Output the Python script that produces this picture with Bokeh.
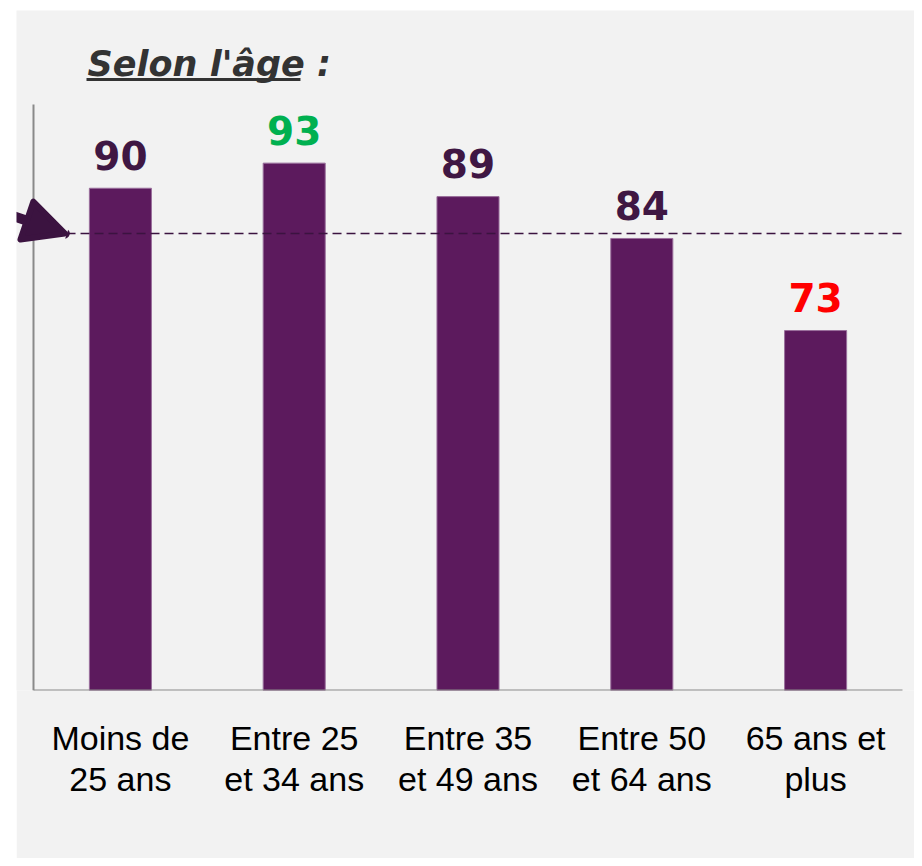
from bokeh.plotting import figure
from bokeh.models import ColumnDataSource, Range1d, Arrow, NormalHead, FixedTicker
from bokeh.core.properties import value
from bokeh.transform import dodge
from bokeh.embed import file_html
from bokeh.resources import INLINE

categories = ["Moins de\n25 ans", "Entre 25\net 34 ans", "Entre 35\net 49 ans",
              "Entre 50\net 64 ans", "65 ans et\nplus"]
values = [90, 93, 89, 84, 73]
label_colors = ["#3f1743", "#00b050", "#3f1743", "#3f1743", "#ff0000"]
average = 84.6
title_text = "Selon l'âge :"
y_min, y_max = 30, 100

BG = "#f2f2f2"
BAR = "#5c1a5d"
DARK = "#3b1340"
AXIS = "#8a8a8a"

n = len(categories)
xpos = [i + 0.5 for i in range(n)]
src = ColumnDataSource(dict(x=xpos, val=values,
                            lbl=[str(v) for v in values], col=label_colors))

p = figure(x_range=Range1d(-0.0978, 5.069), y_range=Range1d(y_min, 111.233),
           width=898, height=848, output_backend="svg", toolbar_location=None,
           min_border_left=0, min_border_right=0, min_border_top=0,
           min_border_bottom=168)
p.margin = (10, 0, 0, 16)
p.background_fill_color = BG
p.border_fill_color = BG
p.outline_line_color = None
p.xgrid.grid_line_color = None
p.ygrid.grid_line_color = None
p.yaxis.visible = False

p.vbar(x="x", top="val", bottom=y_min, width=0.357, source=src,
       fill_color=BAR, line_color="#9a6f9c", line_width=1)

p.text(x="x", y=dodge("val", 3.95), text="lbl", source=src, text_color="col",
       text_align="center", text_baseline="alphabetic",
       text_font=value("DejaVu Sans"), text_font_style="bold",
       text_font_size="39px")

# axis lines
p.segment(x0=[0, 0], y0=[y_min, y_min], x1=[0, n], y1=[y_max, y_min],
          line_color=AXIS, line_width=2)

# category axis labels
p.xaxis.ticker = FixedTicker(ticks=xpos)
p.xaxis.major_label_overrides = {x: c for x, c in zip(xpos, categories)}
p.xaxis.axis_line_color = None
p.xaxis.major_tick_line_color = None
p.xaxis.minor_tick_line_color = None
p.xaxis.major_label_standoff = 22
p.xaxis.major_label_text_font = "Liberation Sans"
p.xaxis.major_label_text_font_size = "34px"
p.xaxis.major_label_text_color = "#000000"
p.xaxis.major_label_text_line_height = 1.1

# average line + arrow
p.segment(x0=0.19, y0=average, x1=n, y1=average, line_color=DARK,
          line_width=1.5, line_dash="9 5")
p.add_layout(Arrow(x_start=-0.19, y_start=average + 2.6, x_end=0.18, y_end=average,
                   line_color=DARK, line_width=10, line_cap="round",
                   end=NormalHead(size=40, fill_color=DARK, line_color=DARK,
                                  line_width=6, line_join="round")))

# title with underline
p.text(x=[0.311], y=[104.9], text=[title_text], text_font=value("DejaVu Sans"),
       text_font_style="bold italic", text_font_size="35px",
       text_color="#333333", text_baseline="alphabetic")
p.segment(x0=0.305, y0=102.99, x1=1.536, y1=102.99,
          line_color="#333333", line_width=3)

open("out.html", "w").write(file_html(p, INLINE))
